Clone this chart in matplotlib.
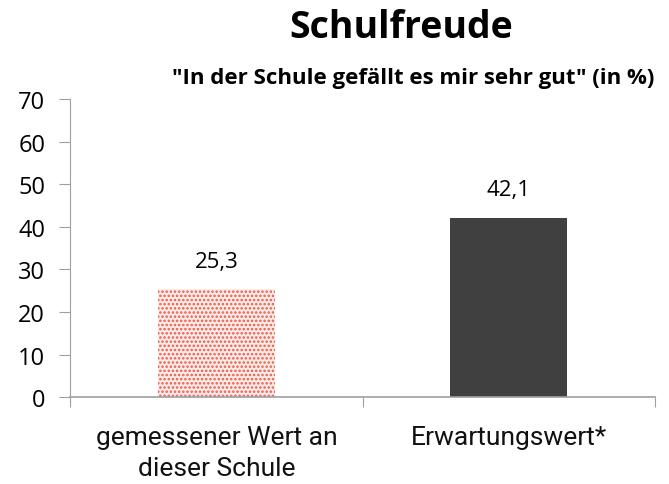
import numpy as np
import matplotlib.pyplot as plt

# Daten
kategorien = ['gemessener Wert an\ndieser Schule', 'Erwartungswert*']
werte = [25.3, 42.1]
beschriftung = ['25,3', '42,1']

fig = plt.figure(figsize=(6.69, 4.85), dpi=100)
ax = fig.add_axes([0.105, 0.179, 0.874, 0.615])

x = np.arange(len(kategorien))
# erster Balken gepunktet, zweiter dunkelgrau
plt.rcParams['hatch.linewidth'] = 1.2
ax.bar(x[0], werte[0], width=0.4, color='#fcebe8', edgecolor='#ec5a45',
       hatch='....', linewidth=0)
ax.bar(x[1], werte[1], width=0.4, color='#404040', linewidth=0)

for xi, w, t in zip(x, werte, beschriftung):
    ax.text(xi, w + 6.6, t, ha='center', va='center', fontsize=16,
            family='Open Sans')

ax.set_xlim(-0.5, 1.5)
ax.set_ylim(0, 70)
ax.set_yticks(range(0, 71, 10))
ax.set_xticks([-0.5, 0.5, 1.5], minor=False)
ax.set_xticklabels([])
ax.set_xticks(x, minor=True)
ax.set_xticklabels(kategorien, minor=True, fontsize=19, family='Roboto',
                   color='#111111', linespacing=1.35)
ax.tick_params(axis='x', which='minor', length=0, pad=20)
ax.tick_params(axis='x', which='major', length=7, color='#a0a0a0')
ax.tick_params(axis='y', length=8, color='#a0a0a0', labelsize=17, pad=10)
for lab in ax.get_yticklabels():
    lab.set_family('Open Sans')

for s in ['top', 'right']:
    ax.spines[s].set_visible(False)
ax.spines['left'].set_color('#a0a0a0')
ax.spines['bottom'].set_color('#a0a0a0')
ax.spines['bottom'].set_linewidth(1.2)

fig.text(0.60, 0.942, 'Schulfreude', ha='center', va='center', fontsize=27,
         fontweight='bold', family='Open Sans')
fig.text(0.617, 0.839, '"In der Schule gefällt es mir sehr gut" (in %)',
         ha='center', va='center', fontsize=16, fontweight='bold',
         family='Open Sans')

fig.savefig('out.png', dpi=100)
